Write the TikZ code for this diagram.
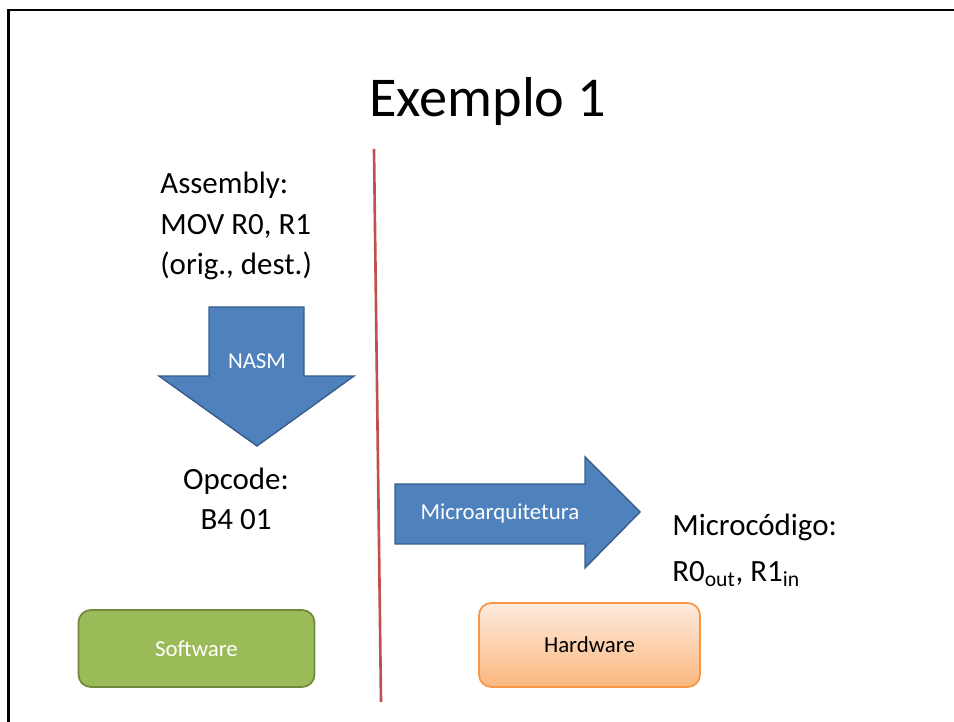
\documentclass[tikz,border=0pt]{standalone}
\usepackage{fontspec}
\setmainfont{Carlito}
\usetikzlibrary{positioning}
\usetikzlibrary{shapes,shapes.arrows}

\definecolor{arrowblue}{HTML}{4F81BD}
\definecolor{arrowedge}{HTML}{385D8A}
\definecolor{swgreen}{HTML}{9BBB59}
\definecolor{swedge}{HTML}{71893F}
\definecolor{hwtop}{HTML}{FEEBDD}
\definecolor{hwbottom}{HTML}{FBB77F}
\definecolor{hwedge}{HTML}{F79646}
\definecolor{splitred}{HTML}{C0504D}

\begin{document}
\begin{tikzpicture}[x=0.02cm, y=-0.02cm,
    every node/.style={inner sep=0pt},
    bigtext/.style={font=\fontsize{17.6}{23.2}\selectfont},
    smalltext/.style={font=\fontsize{13}{15}\selectfont},
    blockarrow/.style={fill=arrowblue, draw=arrowedge, line width=0.8pt, line join=miter},
    sidebox/.style={smalltext, rectangle, rounded corners=7pt, line width=1pt}]
            \useasboundingbox (0,0) rectangle (954,722);

            % Draw the slide frame
            \draw[line width=1.4pt] (8.5,722) -- (8.5,10) -- (954,10);

            % Draw the title
            \node[anchor=base, font=\fontsize{32}{38}\selectfont] (title) at (487.5,117) {Exemplo 1};

            % Draw the split line
            \coordinate (splittop) at (374,149);
            \coordinate (splitbot) at (381,702);
            \draw[splitred, line width=1.5pt] (splittop) -- (splitbot);

            % Draw the software side (base = last line)
            \node[bigtext, align=left, anchor=base west] (asm) at (160,275) {Assembly:\\MOV R0, R1\\(orig., dest.)};
            \draw[blockarrow] (209,307) -- (304,307) -- (304,376) -- (354,376) -- (257,446)
                -- (159,376) -- (209,376) -- cycle;
            \node[smalltext, text=white] (nasm) at (257,361) {NASM};
            \node[bigtext, align=center, anchor=base] (opc) at (236,530) {Opcode:\\B4 01};

            % Draw the hardware side
            \draw[blockarrow] (395,484) -- (585,484) -- (585,457) -- (640,512) -- (585,568)
                -- (585,544) -- (395,544) -- cycle;
            \node[smalltext, text=white] (march) at (500,513) {Microarquitetura};
            \node[bigtext, align=left, anchor=base west] (micro) at (672,582) {Microcódigo:\\[3pt]R0\textsubscript{out}, R1\textsubscript{in}};

            % Draw the boxes
            \node[sidebox, fill=swgreen, draw=swedge, text=white, minimum width=4.72cm, minimum height=1.54cm] (sw) at (196.5,648.5) {Software};
            \node[sidebox, top color=hwtop, bottom color=hwbottom, draw=hwedge, minimum width=4.42cm, minimum height=1.68cm] (hw) at (589.5,645) {Hardware};
        \end{tikzpicture}
\end{document}
